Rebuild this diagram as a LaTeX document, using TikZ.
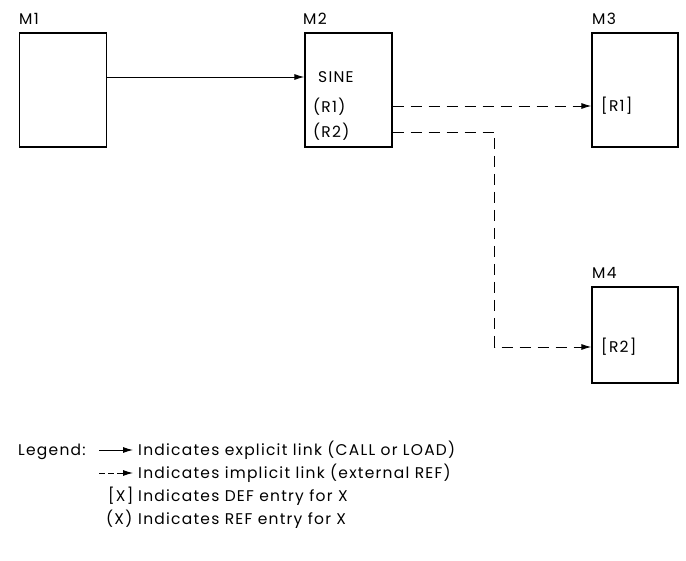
\documentclass[tikz,border=0pt]{standalone}
\usepackage{fontspec}
\setmainfont{Poppins}[LetterSpace=8]
\usetikzlibrary{arrows.meta,positioning}
\tikzset{
  modbox/.style={draw, line width=1.3pt, minimum width=87pt, minimum height=114pt, inner sep=0pt},
  txt/.style={anchor=west, inner sep=0pt, text height=10.8pt, text depth=0pt,
    font=\fontsize{15.5}{18}\selectfont},
  explicit/.style={line width=0.9pt, -{Latex[length=10pt,width=6pt]}},
  implicit/.style={explicit, dash pattern=on 11pt off 7pt},
}
\begin{document}
\begin{tikzpicture}[x=1pt,y=-1pt]
    \useasboundingbox (0,0) rectangle (686,561);
    % modules
    \node[modbox] (m1) at (63,90) {};
    \node[modbox] (m2) at (348.5,90) {};
    \node[modbox, minimum width=86pt] (m3) at (635,90) {};
    \node[modbox, minimum width=86pt, minimum height=96pt] (m4) at (635,335) {};

    \node[txt] (m1name) at (19,19) {M1};
    \node[txt] (m2name) at (303,19) {M2};
    \node[txt] (m3name) at (592,19) {M3};
    \node[txt] (m4name) at (592,273) {M4};

    % entries
    \node[txt] (sine) at (318,77) {SINE};
    \node[txt] (refr1) at (313,107) {(R1)};
    \node[txt] (refr2) at (313,132) {(R2)};
    \node[txt] (defr1) at (601,106) {[R1]};
    \node[txt] (defr2) at (601,347) {[R2]};

    % links
    \draw[explicit] (m1.east |- sine.west) -- (m2.west |- sine.west);
    \draw[implicit] (m2.east |- defr1.west) -- (m3.west |- defr1.west);
    \draw[implicit] (m2.east |- refr2.west) -- ++(102,0) |- (m4.west |- defr2.west);

    % legend
    \node[txt] (legend) at (18,450) {Legend:};
    \coordinate (l1a) at (99,450);
    \coordinate (l1b) at (133,450);
    \coordinate (l2a) at (99,473);
    \coordinate (l2b) at (133,473);
    \node[txt] (t1) at (138,450) {Indicates explicit link (CALL or LOAD)};
    \node[txt] (t2) at (138,473) {Indicates implicit link (external REF)};
    \node[txt] (defx) at (108,496) {[X]};
    \node[txt] (t3) at (138,496) {Indicates DEF entry for X};
    \node[txt] (refx) at (106,519) {(X)};
    \node[txt] (t4) at (138,519) {Indicates REF entry for X};
    \draw[explicit] (l1a) -- (l1b);
    \draw[implicit, dash pattern=on 6pt off 3pt] (l2a) -- (l2b);
\end{tikzpicture}
\end{document}
